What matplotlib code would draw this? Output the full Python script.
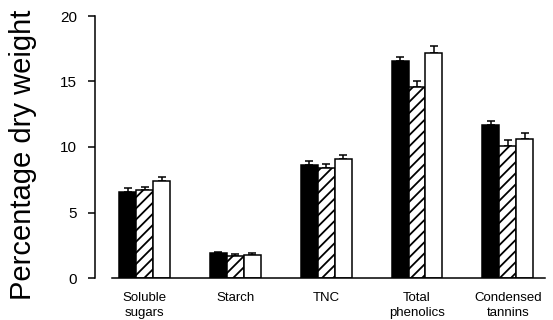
import numpy as np
import matplotlib
matplotlib.use('Agg')
import matplotlib.pyplot as plt

plt.rcParams['font.family'] = ['Liberation Sans', 'DejaVu Sans']
plt.rcParams['hatch.linewidth'] = 1.3

categories = ['Soluble\nsugars', 'Starch', 'TNC', 'Total\nphenolics', 'Condensed\ntannins']
black_vals = [6.6, 1.9, 8.6, 16.6, 11.7]
hatch_vals = [6.7, 1.7, 8.4, 14.6, 10.1]
white_vals = [7.4, 1.75, 9.1, 17.2, 10.6]
black_err = [0.25, 0.1, 0.35, 0.3, 0.3]
hatch_err = [0.25, 0.1, 0.3, 0.4, 0.4]
white_err = [0.3, 0.15, 0.3, 0.5, 0.5]

fig = plt.figure(figsize=(5.53, 3.2), dpi=100)
ax = fig.add_axes([112 / 553, 42 / 320, 433 / 553, 262 / 320])

x = np.arange(len(categories))
w = 0.187
series = [(black_vals, black_err, 'black', ''),
          (hatch_vals, hatch_err, 'white', '///'),
          (white_vals, white_err, 'white', '')]
for i, (vals, err, fc, hatch) in enumerate(series):
    pos = x + (i - 1) * w
    ax.bar(pos, vals, w, color=fc, edgecolor='black', linewidth=1.1, hatch=hatch, zorder=2)
    ax.errorbar(pos, vals, yerr=[np.zeros(len(vals)), err], fmt='none', ecolor='black',
                elinewidth=1.1, capsize=3, capthick=1.1, zorder=1)

ax.set_xlim(-0.36, 4.41)
ax.set_ylim(0, 20)
ax.set_yticks([0, 5, 10, 15, 20])
ax.set_xticks(x)
ax.set_xticklabels(categories, fontsize=9.5, linespacing=1.3)
ax.tick_params(axis='x', length=0, pad=10)
ax.tick_params(axis='y', labelsize=11, length=5, width=1.1, pad=8)
ax.spines['top'].set_visible(False)
ax.spines['right'].set_visible(False)
ax.spines['left'].set_position(('outward', 17 * 0.72))
ax.spines['left'].set_linewidth(1.1)
ax.spines['bottom'].set_linewidth(1.1)
ax.set_ylabel('Percentage dry weight', fontsize=21)
ax.yaxis.set_label_coords(-0.173, 0.47)

fig.savefig('out.png', dpi=100)
